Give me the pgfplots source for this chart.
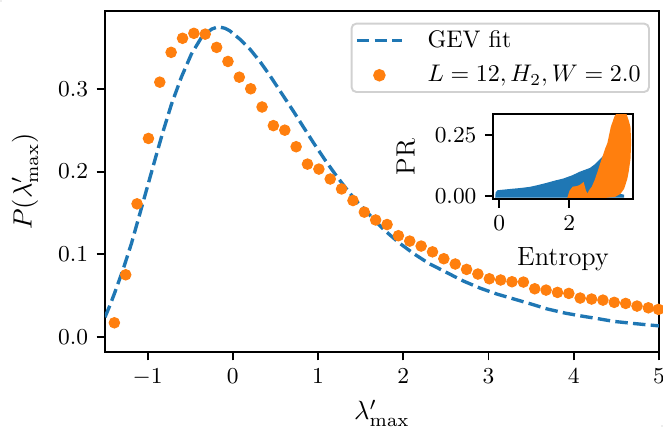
\RequirePackage{fix-cm}
\documentclass[border=0pt]{standalone}
\usepackage{pgfplots}
\pgfplotsset{compat=1.18}
\definecolor{tabblue}{HTML}{1F77B4}
\definecolor{taborange}{HTML}{FF7F0E}

\pgfplotsset{
  myticks/.style={
    tick align=outside, xtick pos=left, ytick pos=left,
    major tick length=3.5pt,
    major tick style={line width=0.8pt, black},
    axis line style={line width=0.8pt},
    tick label style={font=\fontsize{9.5}{11}\selectfont},
    label style={font=\fontsize{11}{13}\selectfont},
  },
  linelegend/.style={legend image code/.code={\draw[##1] (0pt,0pt) -- (18.75pt,0pt);}},
  dotlegend/.style={legend image code/.code={\draw[##1] plot coordinates {(9.4pt,0pt)};}},
}

\begin{document}
\begin{tikzpicture}
\begin{axis}[
  myticks,
  at={(0pt,0pt)}, anchor=south west,
  scale only axis, width=230.8pt, height=142.1pt,
  xmin=-1.5, xmax=5, ymin=-0.018, ymax=0.394,
  xtick={-1,0,1,2,3,4,5}, ytick={0,0.1,0.2,0.3},
  yticklabel style={/pgf/number format/.cd,fixed,fixed zerofill,precision=1},
  xlabel={$\lambda'_{\mathrm{max}}$}, ylabel={$P(\lambda'_{\mathrm{max}})$},
  xlabel style={at={(axis description cs:0.5,-0.179)},anchor=center},
  ylabel style={at={(axis description cs:-0.1444,0.5)},anchor=center},
  legend style={at={(axis description cs:0.9838,0.9657)}, anchor=north east,
    draw=black!18, rounded corners=2pt, line width=0.8pt, font=\normalsize,
    fill=white, inner xsep=1.5pt, inner ysep=0.8pt, row sep=2pt, column sep=8pt},
  legend cell align=left,
]
\addplot[tabblue, line width=1.4pt, dash pattern=on 5.2pt off 2.2pt, linelegend]
coordinates {
(-1.5,0.024) (-1.44,0.039) (-1.388,0.053) (-1.29,0.081) (-1.19,0.113) (-1.094,0.148)
(-0.996,0.184) (-0.898,0.220) (-0.82,0.248) (-0.721,0.281) (-0.604,0.314)
(-0.486,0.342) (-0.368,0.362) (-0.25,0.372) (-0.17,0.375) (-0.09,0.373) (-0.035,0.370)
(0.082,0.360) (0.2,0.348) (0.318,0.333) (0.435,0.316) (0.55,0.298)
(0.71,0.273) (0.827,0.254) (0.945,0.235) (1.082,0.214) (1.2,0.197)
(1.318,0.181) (1.435,0.166) (1.573,0.151) (1.77,0.130) (1.95,0.114) (2.12,0.101)
(2.3,0.089) (2.51,0.078) (2.7,0.068) (2.906,0.059) (3.1,0.052) (3.30,0.046) (3.5,0.040) (3.69,0.034)
(3.9,0.029) (4.09,0.0255) (4.3,0.022) (4.47,0.019) (4.7,0.0165) (4.87,0.0148) (5.0,0.0136)
};
\addplot[only marks, mark=*, mark size=2.2pt, color=taborange,
  mark options={draw=taborange, fill=taborange}, dotlegend]
coordinates {
(-1.39,0.0173) (-1.257,0.0753) (-1.124,0.161) (-0.99,0.240) (-0.857,0.308)
(-0.724,0.344) (-0.59,0.361) (-0.457,0.367) (-0.324,0.366) (-0.19,0.350)
(-0.057,0.333) (0.076,0.314) (0.21,0.300) (0.343,0.278) (0.476,0.2555)
(0.61,0.250) (0.743,0.230) (0.876,0.209) (1.01,0.203) (1.143,0.191)
(1.276,0.179) (1.41,0.165) (1.543,0.151) (1.676,0.1415) (1.81,0.136)
(1.943,0.1225) (2.076,0.116) (2.21,0.110) (2.343,0.103) (2.476,0.0947)
(2.61,0.0883) (2.743,0.0818) (2.876,0.0762) (3.01,0.0705) (3.143,0.069)
(3.276,0.0669) (3.41,0.0665) (3.543,0.0584) (3.676,0.0568) (3.81,0.054)
(3.943,0.0528) (4.076,0.0472) (4.21,0.046) (4.343,0.0447) (4.476,0.042)
(4.61,0.0407) (4.743,0.0375) (4.876,0.0354) (4.995,0.0335)
};
\legend{GEV fit, {$L=12,H_2,W=2.0$}}
\end{axis}

\begin{axis}[
  myticks,
  at={(161.8pt,63.6pt)}, anchor=south west,
  scale only axis, width=58.3pt, height=35.5pt,
  xmin=-0.17, xmax=3.83, ymin=-0.0148, ymax=0.3365,
  xtick={0,2}, ytick={0,0.25},
  yticklabel style={/pgf/number format/.cd,fixed,fixed zerofill,precision=2},
  axis background/.style={fill=white},
  xlabel={Entropy}, ylabel={PR},
  xlabel style={at={(axis description cs:0.498,-0.70)},anchor=center},
  ylabel style={at={(axis description cs:-0.624,0.5)},anchor=center},
]
\addplot[fill=tabblue, draw=tabblue, line width=0.6pt] coordinates {
(-0.094,-0.005) (-0.085,0.012) (-0.04,0.020) (0.3,0.025) (0.6,0.029) (0.88,0.034)
(1.1,0.041) (1.35,0.050) (1.6,0.060) (1.83,0.068) (2.1,0.082) (2.3,0.096)
(2.6,0.112) (2.75,0.128) (2.9,0.150) (3.0,0.165) (3.05,0.17) (3.05,0.05) (3.3,0.01)
(3.55,0.002) (3.55,-0.005)
} -- cycle;
\addplot[fill=taborange, draw=taborange, line width=0.6pt] coordinates {
(1.97,-0.006) (2.03,0.02) (2.11,0.035) (2.22,0.037) (2.31,0.042) (2.40,0.052)
(2.46,0.02) (2.52,0.003) (2.6,0.025) (2.66,0.035) (2.75,0.065) (2.83,0.099)
(2.92,0.14) (2.97,0.16) (3.05,0.195) (3.11,0.216) (3.21,0.284) (3.31,0.325)
(3.4,0.345) (3.6,0.345) (3.68,0.31) (3.73,0.284) (3.75,0.22) (3.73,0.15)
(3.68,0.1) (3.64,0.07) (3.55,0.03) (3.45,0.01) (3.3,-0.002) (3.0,-0.006)
} -- cycle;
\end{axis}
\fill[white!93!black] (-43.75pt,146.67pt) rectangle (-42.95pt,145.87pt);
\fill[white!93!black] (232.5pt,-31.25pt) rectangle (231.7pt,-30.45pt);
\pgfresetboundingbox
\path[use as bounding box] (-43.75pt,-31.25pt) rectangle (232.5pt,146.67pt);
\end{tikzpicture}
\end{document}
